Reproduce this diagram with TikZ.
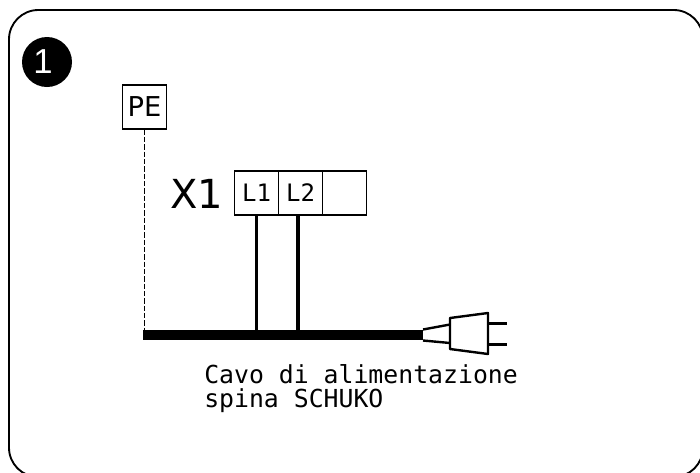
\documentclass[tikz,border=0pt]{standalone}
\usepackage{fontspec}
\setmainfont{DejaVu Sans}
\setmonofont{DejaVu Sans Mono}
\newfontfamily\badgefont{Liberation Sans}
\usetikzlibrary{positioning}
\tikzset{
  termbox/.style={draw, line width=0.8pt, minimum width=33pt, minimum height=33pt, inner sep=0pt, font=\ttfamily\fontsize{18}{18}\selectfont},
  wire/.style={line width=2.6pt},
  plugline/.style={line width=1.8pt, line join=round},
}
\begin{document}
\begin{tikzpicture}[x=0.75pt, y=-0.75pt]
  \useasboundingbox (0,0) rectangle (700,472);
  % Frame
  \begin{scope}
    \clip (0,0) rectangle (700,472);
    \draw[line width=1.4pt, rounded corners=22pt] (9,10) rectangle (703,477);
  \end{scope}

  % Number badge
  \node[circle, fill=black, text=white, minimum size=37.5pt, inner sep=0pt, font=\badgefont\fontsize{26}{26}\selectfont] (badge) at (47,62) {\hspace*{-6pt}1};

  % PE box
  \node[termbox, font=\fontsize{20.5}{20.5}\selectfont] (pe) at (144.5,107) {PE};

  % Terminal block
  \node[font=\fontsize{30}{30}\selectfont] (xone) at (197,194) {X1};
  \node[termbox] (lone) at (256.5,193) {L1};
  \node[termbox] (ltwo) at (300.5,193) {L2};
  \node[termbox] (lthree) at (344.5,193) {};

  % Cable
  \coordinate (cablestart) at (143,335);
  \coordinate (cableend) at (423,335);
  \coordinate (cableone) at (lone.south |- cablestart);
  \coordinate (twotop) at ([xshift=-1.8pt]ltwo.south);
  \coordinate (cabletwo) at (twotop |- cablestart);
  \draw[line width=0.7pt, dash pattern=on 4pt off 1.5pt] (pe.south) -- (pe.south |- cablestart);
  \draw[wire] (lone.south) -- (cableone);
  \draw[wire] (twotop) -- (cabletwo);
  \draw[line width=7.5pt] (cablestart) -- (cableend);

  % Plug
  \draw[plugline] (423,329.5) -- (450,324.5);
  \draw[plugline] (423,340.5) -- (450,343);
  \draw[plugline] (450,318) -- (488,313) -- (488,354) -- (450,349) -- cycle;
  \draw[plugline] (488,323.5) -- (507,323.5);
  \draw[plugline] (488,344.5) -- (507,344.5);

  % Caption
  \node[anchor=north west, align=left, inner sep=0pt, font=\ttfamily\fontsize{18.6}{18}\selectfont] (caption) at (204,364) {Cavo di alimentazione\\spina SCHUKO};
\end{tikzpicture}
\end{document}
